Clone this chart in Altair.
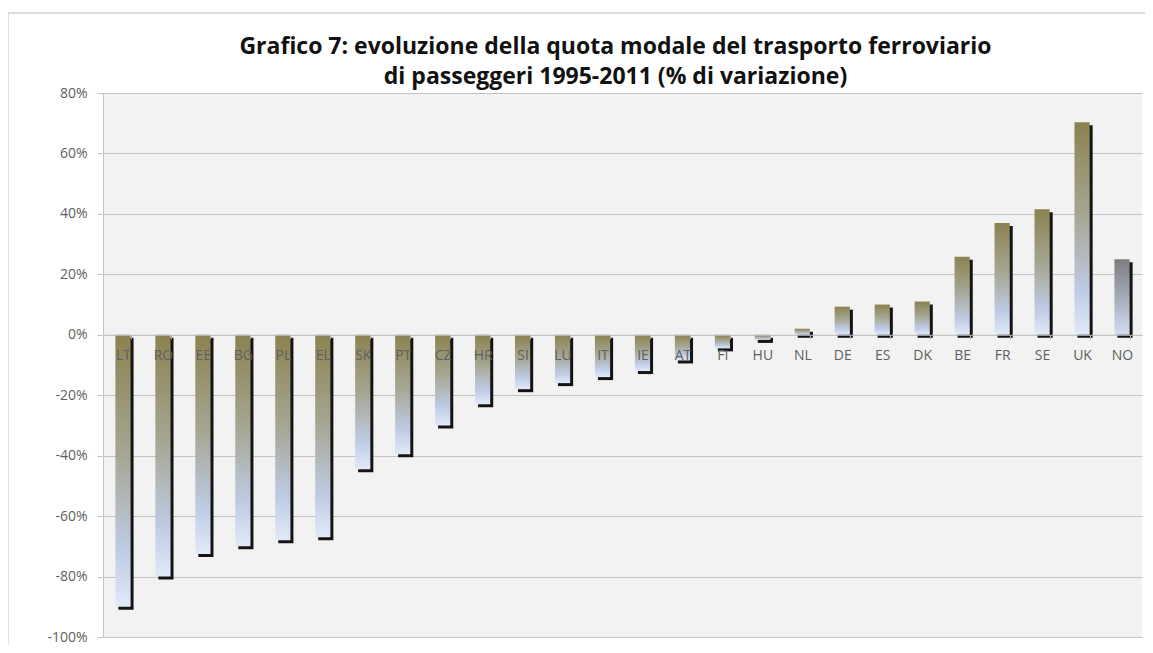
import altair as alt
import pandas as pd

countries = ["LT", "RO", "EE", "BG", "PL", "EL", "SK", "PT", "CZ", "HR", "SI", "LU", "IT",
             "IE", "AT", "FI", "HU", "NL", "DE", "ES", "DK", "BE", "FR", "SE", "UK", "NO"]
values = [-90, -80, -72.5, -70, -68, -67, -44.5, -39.5, -30, -23, -18, -16, -14,
          -12, -8.5, -4.5, -1.7, 2, 9.3, 10, 11, 25.8, 37, 41.5, 70.3, 25]
y_ticks = [-100, -80, -60, -40, -20, 0, 20, 40, 60, 80]
title_lines = ["Grafico 7: evoluzione della quota modale del trasporto ferroviario",
               "di passeggeri 1995-2011 (% di variazione)"]

df = pd.DataFrame({"paese": countries, "variazione": values})

W, H = 1039, 544
GRID = "#c3c3c3"
LABEL = "#5f5f5f"
FONT = "Open Sans"

olive = alt.LinearGradient(
    gradient="linear", x1=0, x2=0, y1=0, y2=1,
    stops=[alt.GradientStop(offset=0, color="#8c8250"),
           alt.GradientStop(offset=0.45, color="#a6a795"),
           alt.GradientStop(offset=0.8, color="#bfcce6"),
           alt.GradientStop(offset=1, color="#e2eaf8")])
grey = alt.LinearGradient(
    gradient="linear", x1=0, x2=0, y1=0, y2=1,
    stops=[alt.GradientStop(offset=0, color="#7d7d80"),
           alt.GradientStop(offset=0.5, color="#a4aab8"),
           alt.GradientStop(offset=1, color="#d4def2")])

x_enc = alt.X("paese:N", sort=countries,
              scale=alt.Scale(paddingInner=0.62, paddingOuter=0.31),
              axis=alt.Axis(title=None, orient="bottom", offset=-H * 100 / 180,
                            labelAngle=0, labelFont=FONT, labelFontSize=14,
                            labelColor=LABEL, labelPadding=10, tickSize=4,
                            tickColor="#b0b0b0", tickBand="extent",
                            domainColor=GRID, domainWidth=1, grid=False,
                            zindex=1))
y_enc = alt.Y("variazione:Q",
              scale=alt.Scale(domain=[-100, 80], nice=False),
              axis=alt.Axis(title=None, values=y_ticks,
                            labelExpr="datum.value + '%'",
                            labelFont=FONT, labelFontSize=14, labelColor=LABEL,
                            labelPadding=10, tickSize=6, tickColor=GRID,
                            domainColor=GRID, gridColor=GRID, gridWidth=1.2))

base = alt.Chart(df)

shadow = base.mark_bar(color="#141414", xOffset=3, yOffset=3).encode(x=x_enc, y=y_enc)
bars = base.transform_filter(alt.datum.paese != "NO").mark_bar(color=olive).encode(
    x=x_enc, y=y_enc)
bar_no = base.transform_filter(alt.datum.paese == "NO").mark_bar(color=grey).encode(
    x=x_enc, y=y_enc)

frame = alt.Chart(pd.DataFrame({"f": [0]})).mark_rect(
    filled=False, stroke="#d4d4d4", strokeWidth=1.5, clip=False
).encode(x=alt.value(-95), x2=alt.value(1300), y=alt.value(-80), y2=alt.value(700))

chart = alt.layer(frame, shadow, bars, bar_no).properties(
    width=W, height=H,
    title=alt.TitleParams(text=title_lines, font=FONT, fontSize=23, fontWeight="bold",
                          color="#111111", anchor="middle", frame="group",
                          lineHeight=30, offset=-77, dx=-7),
    autosize=alt.AutoSizeParams(type="none"),
    padding={"left": 95, "top": 85, "right": 3, "bottom": 8},
    background="white",
).configure_view(fill="#f2f2f2", stroke=None)

chart.save("out.html", embed_options={"renderer": "svg", "actions": False})
